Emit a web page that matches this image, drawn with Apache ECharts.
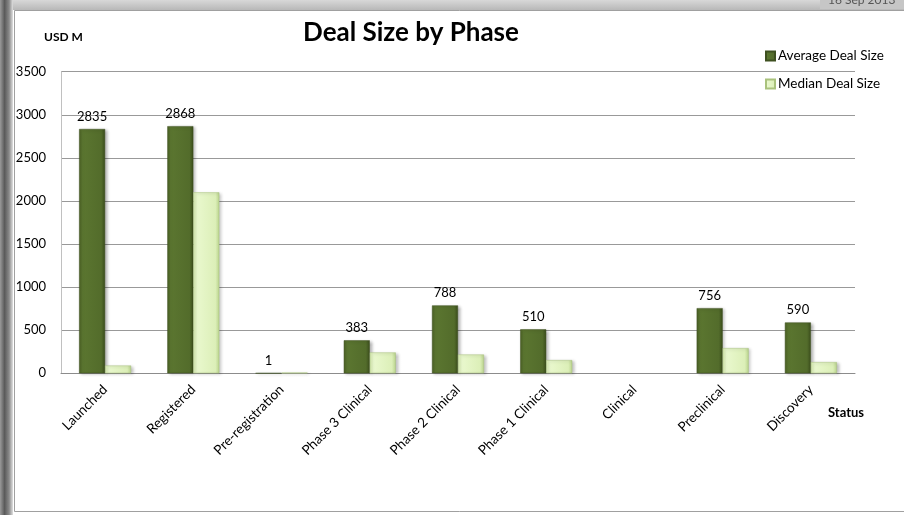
<!DOCTYPE html>
<html>
<head>
<meta charset="utf-8">
<script src="https://cdn.jsdelivr.net/npm/echarts@6/dist/echarts.min.js"></script>
<style>html,body{margin:0;padding:0;background:#fff;}#c{width:904px;height:515px;}</style>
</head>
<body>
<div id="c"></div>
<script>
var categories = ['Launched','Registered','Pre-registration','Phase 3 Clinical','Phase 2 Clinical','Phase 1 Clinical','Clinical','Preclinical','Discovery'];
var averageDealSize = [2835, 2868, 1, 383, 788, 510, null, 756, 590];
var medianDealSize = [90, 2100, 8, 242, 218, 153, null, 292, 130];
var yTicks = [0, 500, 1000, 1500, 2000, 2500, 3000, 3500];

var FONT = 'Lato, "Open Sans", sans-serif';
var chart = echarts.init(document.getElementById('c'));
chart.setOption({
  backgroundColor: '#ffffff',
  animation: false,
  title: {
    text: 'Deal Size by Phase',
    left: 406, top: 15, textAlign: 'center',
    textStyle: {fontFamily: FONT, fontSize: 26, fontWeight: 'bold', color: '#000'}
  },
  legend: {
    orient: 'vertical', left: 760, top: 44,
    itemWidth: 9, itemHeight: 9, itemGap: 14,
    icon: 'rect',
    textStyle: {fontFamily: FONT, fontSize: 13.5, color: '#000', padding: [0,0,0,-2]},
    data: ['Average Deal Size', 'Median Deal Size']
  },
  grid: {left: 61, right: 49, top: 71.7, bottom: 141.7, containLabel: false},
  xAxis: {
    type: 'category', data: categories,
    axisLine: {show: true, lineStyle: {color: '#8c8c8c'}},
    axisTick: {show: false},
    axisLabel: {rotate: 45, fontFamily: FONT, fontSize: 13.5, color: '#000', margin: 14, interval: 0}
  },
  yAxis: {
    type: 'value', min: 0, max: 3500, interval: 500,
    axisLine: {show: true, lineStyle: {color: '#c0c0c0'}},
    axisTick: {show: false},
    axisLabel: {fontFamily: FONT, fontSize: 13, color: '#000', margin: 15,
      formatter: function(v){ return yTicks.indexOf(v) >= 0 ? String(v) : ''; }},
    splitLine: {lineStyle: {color: '#999999', width: 1}}
  },
  series: [
    {
      name: 'Average Deal Size', type: 'bar', data: averageDealSize,
      barWidth: 26, barGap: '0%',
      itemStyle: {
        color: new echarts.graphic.LinearGradient(0,0,1,0,[
          {offset:0,color:'#4a6024'},{offset:0.12,color:'#5b7630'},{offset:0.85,color:'#536c2b'},{offset:1,color:'#3b4d1c'}]),
        borderColor: '#3e5020', borderWidth: 0.5,
        shadowBlur: 3, shadowOffsetX: 2, shadowOffsetY: 1, shadowColor: 'rgba(0,0,0,0.3)'
      },
      label: {show: true, position: 'top', distance: 6, fontFamily: FONT, fontSize: 13, color: '#000'}
    },
    {
      name: 'Median Deal Size', type: 'bar', data: medianDealSize,
      barWidth: 26,
      itemStyle: {
        color: new echarts.graphic.LinearGradient(0,0,1,0,[
          {offset:0,color:'#d4e8ad'},{offset:0.15,color:'#e9f8cd'},{offset:0.85,color:'#dcefb8'},{offset:1,color:'#b9d38c'}]),
        borderColor: '#a9c27c', borderWidth: 0.5,
        shadowBlur: 3, shadowOffsetX: 2, shadowOffsetY: 1, shadowColor: 'rgba(0,0,0,0.25)'
      }
    }
  ],
  graphic: [
    {type: 'rect', left: 0, top: 0, shape: {width: 904, height: 10}, z: -10,
      style: {fill: new echarts.graphic.LinearGradient(0,0,0,1,[{offset:0,color:'#d8d8d8'},{offset:1,color:'#b8b8b8'}])}, silent: true},
    {type: 'rect', left: 0, top: 0, shape: {width: 13, height: 515}, z: -10,
      style: {fill: new echarts.graphic.LinearGradient(0,0,1,0,[{offset:0,color:'#9a9a9a'},{offset:0.35,color:'#5a5a5a'},{offset:0.7,color:'#8a8a8a'},{offset:1,color:'#e0e0e0'}])}, silent: true},
    {type: 'rect', left: 820, top: 0, shape: {width: 84, height: 9}, z: -9,
      style: {fill: '#c6c6c6'}, silent: true},
    {type: 'text', left: 828, top: -6, z: -8,
      style: {text: '16 Sep 2013', font: '12px ' + FONT, fill: '#555'}, silent: true},
    {type: 'rect', shape: {x: 14.5, y: 10.5, width: 900, height: 501}, z: -5,
      style: {fill: '#ffffff', stroke: '#a0a0a0', lineWidth: 1}, silent: true},
    {type: 'text', left: 44, top: 31,
      style: {text: 'USD M', font: 'bold 12px ' + FONT, fill: '#000'}},
    {type: 'text', left: 828, top: 406,
      style: {text: 'Status', font: 'bold 13px ' + FONT, fill: '#000'}}
  ]
});
</script>
</body>
</html>
